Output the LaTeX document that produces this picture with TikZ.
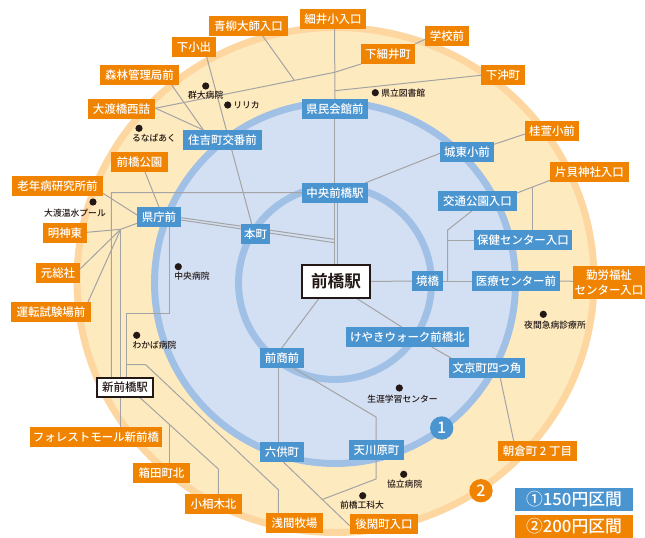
\documentclass[tikz,border=0pt]{standalone}
\usepackage{fontspec}
\setmainfont{Noto Sans CJK JP Medium}
\newfontfamily\heavyjp{Noto Sans CJK JP Bold}
\usetikzlibrary{calc}
\definecolor{orgc}{HTML}{F08300}
\definecolor{bluc}{HTML}{4A94D0}
\definecolor{ofill}{HTML}{FEEABF}
\definecolor{oring}{HTML}{FDD6A0}
\definecolor{ifill}{HTML}{D3DFF3}
\definecolor{iring}{HTML}{A0C0E5}
\definecolor{wirec}{HTML}{A4A4A4}
\definecolor{inkc}{HTML}{231815}
\pgfdeclarelayer{disc}\pgfdeclarelayer{wire}
\pgfsetlayers{disc,wire,main}
\tikzset{
  tagbase/.style={inner sep=0pt,outer sep=0pt,text=white,align=center,font=\fontsize{8.6}{10.8}\selectfont},
  orgtag/.style={tagbase,fill=orgc},
  blutag/.style={tagbase,fill=bluc},
  station/.style={tagbase,fill=white,draw=inkc,line width=1.5pt,text=inkc},
  wireline/.style={draw=wirec,line width=0.75pt},
  poidot/.style={circle,fill=inkc,inner sep=0pt,minimum size=5.4pt},
  poitext/.style={inner sep=0pt,text=inkc,font=\fontsize{6.6}{8}\selectfont},
  numdot/.style={circle,inner sep=0pt,minimum size=17.5pt,text=white,font=\fontsize{12}{13}\selectfont},
  legtag/.style={inner sep=0pt,outer sep=0pt,text=white,font=\fontsize{12.6}{15}\selectfont},
}
\newcommand{\lbox}[7][]{\node[#2,minimum width={(#5-#3)*0.75pt},minimum height={(#6-#4)*0.75pt},#1] (#7) at ({(#3+#5)/2},{(#4+#6)/2})}
\begin{document}
\begin{tikzpicture}[x=0.75pt,y=-0.75pt]
\useasboundingbox (0,0) rectangle (645,538);
\begin{pgfonlayer}{disc}
\fill[white] (0,0) rectangle (645,538);
\draw[oring,fill=ofill,line width=5.2pt] (335.5,280) ellipse [x radius=258.5,y radius=252.5];
\draw[iring,fill=ifill,line width=5.2pt] (335,283) circle [radius=180.5];
\draw[iring,line width=5.2pt] (335,283) circle [radius=96.5];
\end{pgfonlayer}
% orange stops
\lbox{orgtag}{209}{16}{288}{36}{aoyagi} {青柳大師入口};
\lbox{orgtag}{300}{9}{366}{29}{hosoi} {細井小入口};
\lbox{orgtag}{172}{37}{216}{57}{koide} {下小出};
\lbox{orgtag}{100}{65}{179}{85}{shinrin} {森林管理局前};
\lbox{orgtag}{88}{99}{155}{119}{watari} {大渡橋西詰};
\lbox{orgtag}{111}{152}{168}{172}{koen} {前橋公園};
\lbox{orgtag}{12}{176}{103}{196}{rounen} {老年病研究所前};
\lbox{orgtag}{43}{223}{87}{243}{myojin} {明神東};
\lbox{orgtag}{36}{263}{80}{283}{motosoja} {元総社};
\lbox{orgtag}{11}{302}{91}{322}{unten} {運転試験場前};
\lbox{orgtag}{30}{427}{162}{447}{forest} {フォレストモール新前橋};
\lbox{orgtag}{133}{463}{190}{483}{hakoda} {箱田町北};
\lbox{orgtag}{185}{494}{242}{514}{oaiki} {小相木北};
\lbox{orgtag}{266}{513}{323}{533}{asama} {浅間牧場};
\lbox{orgtag}{350}{514}{418}{534}{gokan} {後閑町入口};
\lbox{orgtag}{498}{441}{577}{461}{asakura} {朝倉町 2 丁目};
\lbox{orgtag}{573}{266}{645}{299}{kinro} {勤労福祉\\センター入口};
\lbox{orgtag}{425}{26}{469}{46}{gakko} {学校前};
\lbox{orgtag}{361}{44}{415}{64}{shimohosoi} {下細井町};
\lbox{orgtag}{481}{65}{525}{85}{okimachi} {下沖町};
\lbox{orgtag}{525}{121}{579}{141}{keiei} {桂萱小前};
\lbox{orgtag}{550}{162}{629}{182}{katakai} {片貝神社入口};
% blue stops
\lbox{blutag}{302}{99}{368}{119}{kenmin} {県民会館前};
\lbox{blutag}{183}{130}{262}{150}{sumiyoshi} {住吉町交番前};
\lbox{blutag}{302}{183}{368}{203}{chuo} {中央前橋駅};
\lbox{blutag}{137}{207}{181}{227}{kencho} {県庁前};
\lbox{blutag}{241}{224}{270}{244}{honmachi} {本町};
\lbox{blutag}{440}{142}{494}{162}{joto} {城東小前};
\lbox{blutag}{438}{191}{517}{211}{kotsu} {交通公園入口};
\lbox{blutag}{474}{230}{572}{250}{hoken} {保健センター入口};
\lbox{blutag}{412}{271}{443}{291}{sakai} {境橋};
\lbox{blutag}{472}{271}{560}{291}{iryo} {医療センター前};
\lbox{blutag}{346}{327}{469}{347}{keyaki} {けやきウォーク前橋北};
\lbox{blutag}{449}{358}{525}{378}{bunkyo} {文京町四つ角};
\lbox{blutag}{260}{348}{304}{368}{zensho} {前商前};
\lbox{blutag}{260}{442}{304}{462}{rokku} {六供町};
\lbox{blutag}{349}{440}{404}{460}{amagawa} {天川原町};
% stations
\lbox[font=\heavyjp\fontsize{12.5}{14}\selectfont]{station}{302}{265}{370}{298}{maebashi} {前橋駅};
\lbox{station}{97}{378}{153}{397}{shin} {新前橋駅};
% points of interest
\node[poidot] (dgunma) at (205.7,86) {};
\node[poitext] (tgunma) at (205.7,94.7) {群大病院};
\node[poidot] (dririka) at (227.7,105) {};
\node[poitext,anchor=west] (tririka) at (233,105) {リリカ};
\node[poidot] (druna) at (139,128.3) {};
\node[poitext] (truna) at (154,138.5) {るなぱあく};
\node[poidot] (donsui) at (93,202) {};
\node[poitext] (tonsui) at (75,213) {大渡温水プール};
\node[poidot] (dchuoh) at (178.3,266.7) {};
\node[poitext] (tchuoh) at (192,276.3) {中央病院};
\node[poidot] (dwaka) at (136.7,335.3) {};
\node[poitext] (twaka) at (154.5,344.7) {わかば病院};
\node[poidot] (dtosho) at (375.3,92.7) {};
\node[poitext,anchor=west] (ttosho) at (381,93) {県立図書館};
\node[poidot] (dyakan) at (543.3,314.3) {};
\node[poitext] (tyakan) at (555,325.3) {夜間急病診療所};
\node[poidot] (dshogai) at (399.3,388) {};
\node[poitext] (tshogai) at (402.5,398.7) {生涯学習センター};
\node[poidot] (dkyo) at (403.7,474.3) {};
\node[poitext] (tkyo) at (404.7,484) {協立病院};
\node[poidot] (dko) at (362.7,495.7) {};
\node[poitext] (tko) at (362,505.3) {前橋工科大};
% zone marks and legend
\node[numdot,fill=bluc] (one) at (441.7,428) {1};
\node[numdot,fill=orgc] (two) at (481,490.7) {2};
\lbox{legtag,fill=bluc}{515}{488}{633}{511}{legone} {①150円区間};
\lbox{legtag,fill=orgc}{515}{515}{633}{538}{legtwo} {②200円区間};
% junctions
\coordinate (j1) at (294.3,80.3);
\coordinate (j2) at (334.7,72.3);
\coordinate (j3) at (335,90.7);
\coordinate (j4) at (111.3,192.7);
\coordinate (j5) at (334.3,239.3);
\coordinate (j6) at (334.3,242.7);
\coordinate (j7) at (120.7,229.3);
\coordinate (j8) at (169,313.3);
\coordinate (j9) at (126.3,313.3);
\coordinate (j10) at (126.3,364.7);
\coordinate (j11) at (145.7,364.7);
\coordinate (j12) at (278.3,489.7);
\coordinate (j13) at (218.3,469);
\coordinate (j14) at (169,424.7);
\coordinate (j15) at (532.3,186.7);
\coordinate (j16) at (447.7,230);
\coordinate (j17) at (447.7,281);
\coordinate (j18) at (447.7,240);
\coordinate (j19) at (376,417);
\coordinate (j20) at (376,479);
\coordinate (j21) at (321.7,499.7);
\begin{pgfonlayer}{wire}
\draw[wireline] ($(aoyagi.south)+(14.2,0)$) -- (j1);
\draw[wireline] ($(watari.east)+(0,-0.7)$) -- (j2) -- (shimohosoi.south west);
\draw[wireline] ($(gakko.west)+(0,3.3)$) -- (shimohosoi.north east);
\draw[wireline] ($(okimachi.west)+(0,0.3)$) -- (j3);
\draw[wireline] ($(hosoi.south)+(1.5,0)$) -- (kenmin.north);
\draw[wireline] ($(kenmin.south)+(-0.7,0)$) -- ($(maebashi.north)+(-1.7,0)$);
\draw[wireline] ($(chuo.south)+(2.7,0)$) -- ($(maebashi.north)+(1.7,0)$);
\draw[wireline] ($(chuo.west)+(0,-0.3)$) -- (j4) -- ($(shin.north)+(-13.7,0)$);
\draw[wireline] ($(kencho.east)+(0,0.7)$) -- (j5);
\draw[wireline] ($(kencho.east)+(0,3)$) -- (j6);
\draw[wireline] ($(koide.south)+(12.7,0)$) -- ($(honmachi.north)+(-3.8,0)$);
\draw[wireline] ($(shinrin.south)+(32.2,0)$) -- ($(sumiyoshi.north)+(-19.2,0)$);
\draw[wireline] ($(watari.east)+(0,-1)$) -- ($(sumiyoshi.north)+(-19.2,0)$);
\draw[wireline] ($(koen.south)+(5.5,0)$) -- (kencho.north);
\draw[wireline] ($(rounen.east)+(0,7.3)$) -- ($(kencho.west)+(0,-2)$);
\draw[wireline] ($(myojin.east)+(0,-0.7)$) -- (j7) -- ($(kencho.west)+(0,6.3)$);
\draw[wireline] ($(motosoja.east)+(0,-4)$) -- (j7);
\draw[wireline] ($(unten.north)+(37,0)$) -- (j7);
\draw[wireline] (j7) -- ($(forest.north)+(24.7,0)$);
\draw[wireline] ($(kencho.south)+(10,0)$) -- (j8) -- (j9) -- ($(shin.north)+(1.3,0)$);
\draw[wireline] (j10) -- (j11) -- (j12) -- ($(asama.north)+(-16.2,0)$);
\draw[wireline] ($(shin.south)+(14.3,0)$) -- (j13) -- ($(oaiki.north)+(4.8,0)$);
\draw[wireline] (j14) -- ($(hakoda.north)+(7.5,0)$);
\draw[wireline] ($(joto.west)+(0,1.3)$) -- ($(chuo.north east)+(-3,0)$);
\draw[wireline] ($(keiei.west)+(0,3)$) -- ($(joto.north east)+(0,2.3)$);
\draw[wireline] ($(katakai.west)+(0,8.3)$) -- ($(kotsu.east)+(0,-8)$);
\draw[wireline] (j15) -- ($(hoken.north)+(9.3,0)$);
\draw[wireline] ($(kotsu.south)+(-5.8,0)$) -- (j16) -- (j17);
\draw[wireline] (j18) -- (hoken.west);
\draw[wireline] (maebashi.east) -- (sakai.west);
\draw[wireline] (sakai.east) -- (iryo.west);
\draw[wireline] (iryo.east) -- ($(kinro.west)+(0,-1.2)$);
\draw[wireline] ($(maebashi.south)+(20,0)$) -- ($(keyaki.north)+(-5.8,0)$);
\draw[wireline] ($(keyaki.south)+(24.2,0)$) -- ($(bunkyo.north west)+(2,0)$);
\draw[wireline] ($(bunkyo.south)+(13.3,0)$) -- ($(asakura.north)+(-23.8,0)$);
\draw[wireline] ($(maebashi.south)+(-16.7,0)$) -- ($(zensho.north)+(-0.3,0)$);
\draw[wireline] ($(zensho.south)+(-3.7,0)$) -- ($(rokku.north)+(-3.7,0)$);
\draw[wireline] ($(zensho.south)+(11.3,0)$) -- (j19) -- (j20) -- (j21);
\draw[wireline] ($(rokku.south)+(1.3,0)$) -- ($(gokan.west)+(0,2)$);
\end{pgfonlayer}
\end{tikzpicture}
\end{document}
